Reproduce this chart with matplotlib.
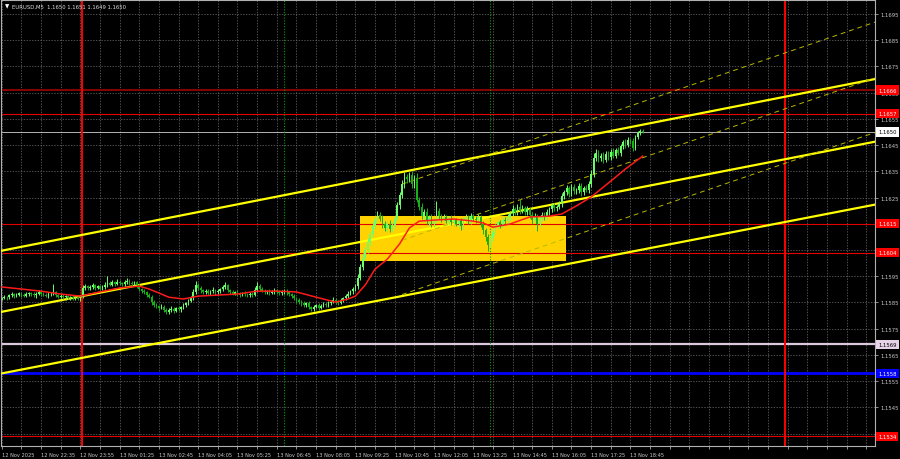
import os
import matplotlib.pyplot as plt
from matplotlib import font_manager as fm
from matplotlib.patches import Rectangle

# EURUSD M5 - values in points above 1.15000
BASE = 1.15

closes = [866, 872, 869, 878, 882, 876, 880, 885, 879, 874,
          881, 886, 882, 877, 883, 888, 884, 879, 875, 881,
          884, 890, 878, 872, 876, 870, 874, 868, 871, 865,
          869, 863, 872, 905, 912, 904, 909, 915, 906, 911,
          903, 908, 917, 925, 918, 926, 921, 929, 923, 919,
          927, 932, 924, 920, 926, 915, 902, 895, 888, 880,
          872, 852, 840, 836, 828, 834, 822, 812, 820, 826,
          818, 829, 824, 832, 840, 848, 856, 866, 890, 915,
          905, 896, 888, 893, 886, 892, 897, 889, 894, 900,
          908, 915, 898, 890, 884, 888, 882, 879, 885, 881,
          877, 883, 880, 898, 912, 903, 895, 889, 893, 886,
          891, 896, 889, 885, 890, 895, 888, 882, 876, 866,
          858, 852, 846, 840, 848, 832, 825, 834, 840, 830,
          838, 845, 839, 848, 852, 860, 854, 848, 858, 866,
          874, 884, 892, 900, 912, 945, 985, 1020, 1050, 1080,
          1110, 1140, 1165, 1185, 1170, 1150, 1135, 1150, 1130, 1145,
          1170, 1220, 1260, 1300, 1330, 1320, 1335, 1300, 1325, 1240,
          1215, 1180, 1195, 1160, 1175, 1150, 1165, 1200, 1180, 1165,
          1175, 1160, 1170, 1155, 1165, 1150, 1160, 1140, 1165, 1175,
          1160, 1180, 1170, 1165, 1175, 1150, 1125, 1100, 1070, 1095,
          1120, 1140, 1155, 1145, 1165, 1160, 1175, 1190, 1205, 1195,
          1215, 1200, 1210, 1195, 1205, 1185, 1165, 1180, 1150, 1170,
          1185, 1175, 1195, 1205, 1220, 1210, 1215, 1225, 1255, 1270,
          1285, 1265, 1290, 1275, 1280, 1295, 1270, 1285, 1280, 1300,
          1340, 1400, 1420, 1400, 1410, 1395, 1415, 1405, 1425, 1410,
          1430, 1420, 1445, 1460, 1450, 1470, 1465, 1440, 1480, 1495,
          1505, 1500]

up_wick = [5, 8, 4, 6, 9, 3, 7, 5, 4, 6,
           7, 5, 4, 8, 6, 10, 3, 5, 6, 7,
           5, 30, 4, 6, 8, 5, 3, 6, 4, 7,
           5, 6, 8, 12, 10, 6, 8, 9, 5, 7,
           6, 8, 10, 26, 7, 9, 6, 10, 8, 5,
           9, 13, 6, 8, 7, 5, 6, 4, 7, 5,
           6, 5, 8, 6, 4, 9, 5, 6, 7, 10,
           6, 5, 8, 4, 6, 5, 7, 8, 12, 17,
           8, 6, 5, 9, 7, 6, 10, 5, 8, 6,
           9, 13, 6, 5, 7, 4, 8, 6, 5, 7,
           6, 5, 8, 10, 16, 7, 6, 8, 5, 7,
           6, 9, 5, 7, 8, 6, 5, 7, 4, 6,
           5, 7, 6, 8, 5, 9, 6, 7, 5, 8,
           6, 5, 8, 7, 6, 9, 5, 7, 8, 6,
           7, 8, 6, 9, 10, 15, 12, 18, 10, 14,
           12, 16, 10, 13, 9, 14, 10, 12, 15, 11,
           10, 14, 12, 16, 17, 10, 12, 15, 10, 18,
           12, 15, 10, 14, 9, 12, 8, 37, 10, 9,
           11, 8, 10, 12, 9, 7, 10, 12, 8, 14,
           9, 11, 8, 10, 13, 7, 9, 8, 10, 12,
           10, 8, 12, 9, 11, 10, 14, 10, 15, 9,
           12, 29, 10, 9, 11, 8, 10, 12, 9, 11,
           10, 8, 12, 9, 10, 11, 8, 13, 12, 10,
           12, 9, 11, 10, 8, 12, 9, 10, 11, 13,
           15, 18, 14, 12, 10, 13, 11, 12, 10, 14,
           10, 12, 9, 11, 13, 10, 8, 12, 9, 10,
           8, 5]

dn_wick = [6, 4, 8, 5, 7, 9, 4, 6, 8, 5,
           4, 7, 6, 5, 9, 4, 8, 6, 5, 7,
           6, 5, 8, 4, 7, 6, 9, 5, 8, 6,
           7, 5, 6, 4, 8, 6, 5, 7, 9, 4,
           6, 5, 7, 8, 6, 4, 9, 5, 7, 6,
           5, 7, 6, 8, 4, 9, 7, 8, 6, 9,
           7, 10, 8, 6, 9, 5, 8, 6, 7, 5,
           8, 6, 5, 9, 7, 6, 8, 5, 7, 6,
           7, 9, 6, 5, 8, 7, 5, 9, 6, 7,
           6, 8, 7, 9, 6, 5, 7, 8, 6, 5,
           7, 6, 8, 5, 7, 9, 6, 5, 8, 6,
           5, 7, 6, 8, 5, 7, 9, 6, 8, 7,
           9, 7, 8, 6, 9, 7, 8, 6, 7, 9,
           7, 6, 8, 5, 7, 6, 9, 7, 5, 6,
           6, 7, 5, 8, 6, 10, 8, 12, 9, 11,
           10, 12, 9, 14, 11, 16, 12, 15, 10, 13,
           11, 9, 14, 10, 12, 15, 11, 14, 12, 7,
           14, 12, 15, 10, 13, 11, 14, 9, 12, 10,
           11, 9, 12, 10, 14, 8, 11, 13, 9, 10,
           12, 10, 9, 11, 8, 12, 14, 16, 24, 10,
           9, 11, 10, 13, 9, 12, 10, 11, 9, 12,
           10, 11, 9, 12, 10, 13, 15, 10, 28, 11,
           9, 12, 10, 11, 9, 12, 10, 9, 11, 10,
           11, 13, 9, 12, 10, 11, 14, 10, 9, 12,
           10, 12, 11, 13, 10, 12, 9, 11, 13, 10,
           11, 9, 12, 10, 11, 9, 10, 14, 9, 8,
           7, 5]

# moving average (red) read at some bars
ma_bars = [0, 8, 16, 24, 32, 40, 48, 56, 60, 64, 68, 74, 80, 88, 96, 104, 112, 120,
           128, 136, 141, 144, 148, 152, 157, 162, 166, 170, 176, 184, 192, 196, 200,
           207, 215, 223, 228, 234, 240, 247, 254, 261]
ma_vals = [909, 901, 893, 882, 874, 890, 905, 912, 901, 886, 870, 863, 874, 878, 882,
           893, 893, 890, 870, 851, 863, 874, 916, 977, 1015, 1073, 1134, 1160, 1164,
           1168, 1160, 1153, 1137, 1149, 1176, 1179, 1187, 1218, 1252, 1305, 1359, 1408]

x_labels = ["12 Nov 2025", "12 Nov 22:35", "12 Nov 23:55", "13 Nov 01:25", "13 Nov 02:45",
            "13 Nov 04:05", "13 Nov 05:25", "13 Nov 06:45", "13 Nov 08:05", "13 Nov 09:25",
            "13 Nov 10:45", "13 Nov 12:05", "13 Nov 13:25", "13 Nov 14:45", "13 Nov 16:05",
            "13 Nov 17:25", "13 Nov 18:45"]
y_ticks = [1.1535, 1.1545, 1.1555, 1.1565, 1.1575, 1.1585, 1.1595, 1.1605, 1.1615,
           1.1625, 1.1635, 1.1645, 1.1655, 1.1665, 1.1675, 1.1685, 1.1695]
# these scale labels sit under the price boxes
hidden_ticks = [1.1535, 1.1605, 1.1615]

# levels
red_levels = [1.1666, 1.1657, 1.1615, 1.1604, 1.1534]
bid = 1.1650
pink_level = 1.1569
blue_level = 1.1558

# trend channels: (bar0, price0, bar1, price1)
solid_lines = [(-0.7, 1.16046, 355.6, 1.16702),
               (-0.7, 1.15813, 355.6, 1.16463),
               (-0.7, 1.15578, 355.6, 1.16223)]
dashed_lines = [(163, 1.16301, 355.6, 1.16919),
                (163, 1.16087, 355.6, 1.16706),
                (163, 1.15880, 355.6, 1.16498)]
box = (146, 1.16008, 229.8, 1.16179)

day_seps = [32.7, 318.9]
session_marks = [114.9, 198.8]

# narrow font like the terminal one, if one is there
cands = [('DejaVuSansCondensed.', 4.2), ('LiberationSansNarrow-Regular', 5.2),
         ('NotoSans-Condensed.', 4.8), ('RobotoCondensed-Regular', 5.0)]
paths = [f.fname for f in fm.fontManager.ttflist]
font_file = None
fs = 4.4
for key, size in cands:
    hit = [p for p in paths if os.path.basename(p).startswith(key)]
    if hit:
        font_file = hit[0]
        fs = size
        break


def fprop(size):
    if font_file:
        return fm.FontProperties(fname=font_file, size=size)
    return fm.FontProperties(family='Liberation Sans', size=size)


fig = plt.figure(figsize=(9, 4.6), dpi=100, facecolor='black')
ax = fig.add_axes([1 / 900, 13 / 460, 874 / 900, 446 / 460], facecolor='black')

# candles
opens = [closes[0]] + closes[:-1]
for i in range(len(closes)):
    o = BASE + opens[i] / 1e5
    c = BASE + closes[i] / 1e5
    hi = max(o, c) + up_wick[i] / 1e5
    lo = min(o, c) - dn_wick[i] / 1e5
    col = '#6cff6c' if c >= o else '#17b017'
    ax.vlines(i, lo, hi, color=col, lw=0.7, zorder=4)
    h = max(abs(c - o), 0.000015)
    ax.bar(i, h, bottom=min(o, c), width=0.65, color=col, edgecolor='none', zorder=4)

ax.plot(ma_bars, [BASE + v / 1e5 for v in ma_vals], color='#ff1a1a', lw=1.1, zorder=5)

# rectangle
ax.add_patch(Rectangle((box[0], box[1]), box[2] - box[0], box[3] - box[1],
                       facecolor='#ffd200', edgecolor='none', zorder=1))

# horizontal levels
for k, lv in enumerate(red_levels):
    if k == 0:
        ax.axhline(lv, color='#8b0000', lw=1.4, zorder=2)
    else:
        ax.axhline(lv, color='#e00000', lw=0.8, zorder=2)
ax.axhline(bid, color='#b4b4b4', lw=0.7, zorder=2)
ax.axhline(pink_level, color='#dcc8dc', lw=1.6, zorder=2)
ax.axhline(blue_level, color='#0000ff', lw=2.0, zorder=2)

for xv in day_seps:
    ax.axvline(xv, color='#ff0000', lw=1.4, zorder=2)
for xv in session_marks:
    ax.axvline(xv, color='#00a000', lw=0.8, ls=(0, (1, 1.5)), zorder=2)

for x0, y0, x1, y1 in solid_lines:
    ax.plot([x0, x1], [y0, y1], color='#ffff00', lw=1.6, zorder=3)
for x0, y0, x1, y1 in dashed_lines:
    ax.plot([x0, x1], [y0, y1], color='#b8b800', lw=0.7, ls=(0, (5, 4)), zorder=3)

ax.set_xlim(-0.3, 355.6)
ax.set_ylim(1.153024, 1.170034)

# grid
ax.set_axisbelow(True)
ax.set_xticks(list(range(0, 356, 8)))
xt = []
for k in range(len(ax.get_xticks())):
    xt.append(x_labels[k // 2] if k % 2 == 0 and k // 2 < len(x_labels) else '')
ax.set_xticklabels(xt, ha='left')
ax.set_yticks(y_ticks)
ax.set_yticklabels(['' if v in hidden_ticks else '%.4f' % v for v in y_ticks])
ax.yaxis.tick_right()
ax.grid(True, color='#6e6e6e', ls=(0, (2, 2)), lw=0.5)
ax.tick_params(axis='both', colors='#c8c8c8', length=2, width=0.5)
ax.tick_params(axis='y', pad=2)
ax.tick_params(axis='x', pad=2)
for lbl in ax.get_xticklabels():
    lbl.set_fontproperties(fprop(fs * 0.97))
for lbl in ax.get_yticklabels():
    lbl.set_fontproperties(fprop(fs))
for s in ax.spines.values():
    s.set_color('#b0b0b0')
    s.set_linewidth(0.8)

# price boxes on the right
tags = [(1.1666, '#ff0000', 'white'), (1.1657, '#ff0000', 'white'),
        (1.1650, 'white', 'black'), (1.1615, '#ff0000', 'white'),
        (1.1604, '#ff0000', 'white'), (1.1569, '#e8d4e8', 'black'),
        (1.1558, '#0000ff', 'white'), (1.1534, '#ff0000', 'white')]
for val, fc, tc in tags:
    ax.text(1.0035, val, '%.4f' % val, transform=ax.get_yaxis_transform(),
            ha='left', va='center', color=tc, zorder=10, clip_on=False,
            fontproperties=fprop(fs),
            bbox=dict(boxstyle='square,pad=0.35', fc=fc, ec='none'))

fig.text(5 / 900, 1 - 7 / 460, '▼', color='white', fontsize=4, va='center', family=['DejaVu Sans'])
fig.text(12 / 900, 1 - 7 / 460, 'EURUSD,M5  1.1650 1.1651 1.1649 1.1650',
         color='#e0e0e0', va='center', fontproperties=fprop(fs))

plt.savefig('out.png', dpi=100, facecolor='black')
